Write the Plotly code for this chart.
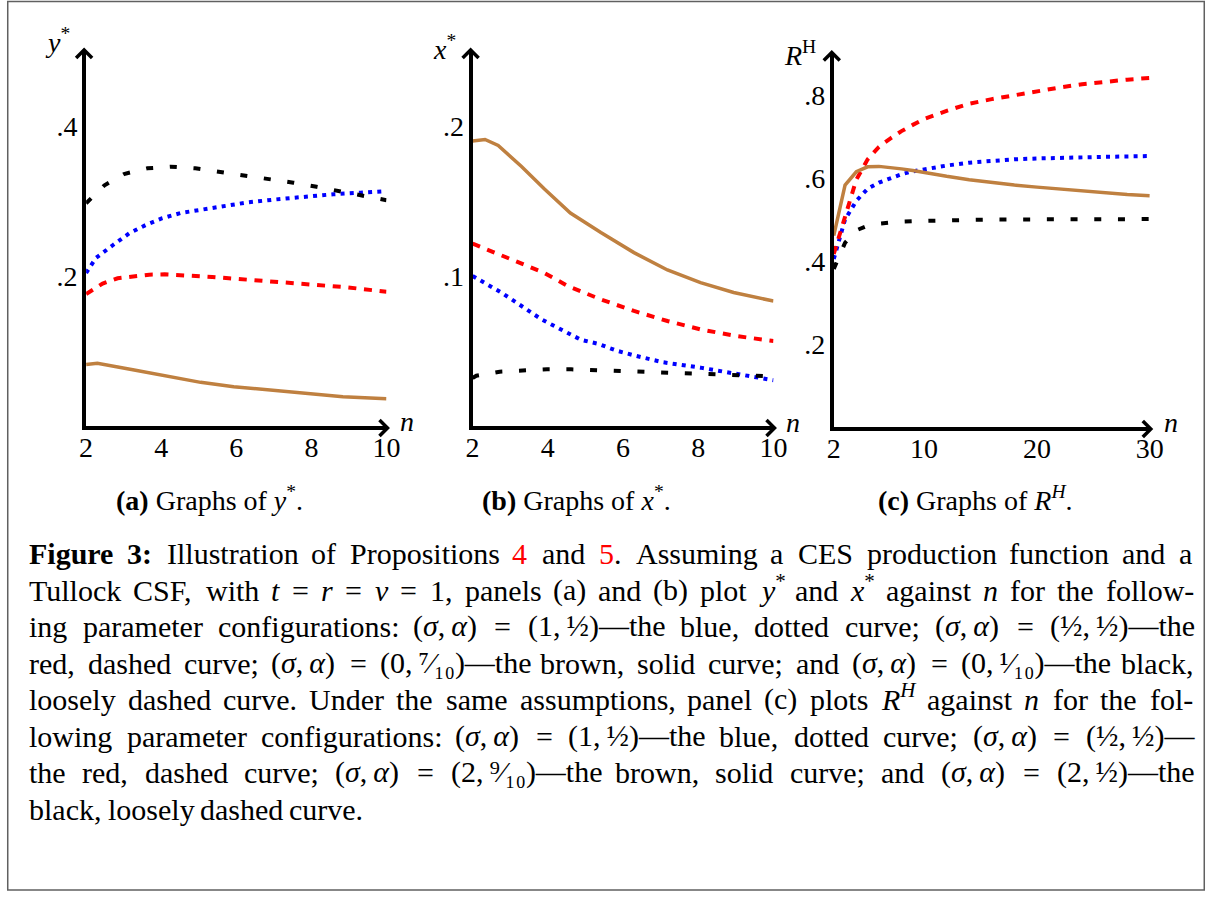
import re
import plotly.graph_objects as go

# full-page figure; the body margin is removed after plotting
PW, PH = 1219, 897
FW, FH = PW, PH
FONT = "Liberation Serif"
# the photographed page comes out slightly squeezed horizontally
# (shown x = SX0 + SX * page x); positions below are given in the
# reference picture's pixels and mapped back to page pixels.
SX0, SX = 8.0, 0.9815

# ---------------- data ----------------
# Panel (a): y* against n
n_a_blue = [2, 2.26, 2.71, 3.15, 3.59, 4.03, 4.52, 5.05, 5.58, 6.28, 7.03, 7.8, 8.58, 9.3, 10]
y_a_blue = [0.204, 0.224, 0.241, 0.257, 0.268, 0.277, 0.284, 0.288, 0.293, 0.298, 0.302, 0.306, 0.309, 0.311, 0.313]
n_a_red = [2, 2.44, 2.84, 3.26, 3.68, 4.09, 4.52, 4.91, 5.36, 5.80, 6.19, 7.03, 7.7, 8.93, 10]
y_a_red = [0.176, 0.190, 0.197, 0.200, 0.2018, 0.2022, 0.2013, 0.2004, 0.1987, 0.197, 0.1956, 0.192, 0.190, 0.185, 0.179]
n_a_brown = [2, 2.3, 3.28, 4.2, 5.05, 5.93, 6.81, 7.7, 8.84, 10]
y_a_brown = [0.082, 0.0836, 0.0747, 0.066, 0.0582, 0.0524, 0.048, 0.0436, 0.039, 0.0364]
n_a_black = [2, 2.49, 3.01, 3.63, 4.25, 4.91, 5.53, 6.17, 6.79, 7.52, 8.14, 8.67, 9.37, 10]
y_a_black = [0.297, 0.321, 0.336, 0.3436, 0.3458, 0.3436, 0.339, 0.3347, 0.330, 0.3244, 0.319, 0.314, 0.308, 0.301]

# Panel (b): x* against n
n_b_blue = [2, 2.77, 3.83, 4.88, 5.35, 5.83, 6.32, 6.81, 7.06, 8.06, 9.0, 10]
y_b_blue = [0.100, 0.0889, 0.0711, 0.0575, 0.0547, 0.0502, 0.0469, 0.0442, 0.0425, 0.0389, 0.035, 0.0305]
n_b_red = [2, 3.03, 3.91, 4.53, 5.41, 6.29, 7.18, 8.06, 9.0, 10]
y_b_red = [0.1216, 0.111, 0.102, 0.0933, 0.0844, 0.0767, 0.070, 0.0644, 0.060, 0.0567]
n_b_brown = [2, 2.33, 2.68, 3.30, 3.91, 4.6, 5.41, 6.29, 7.18, 8.06, 8.94, 10]
y_b_brown = [0.190, 0.191, 0.187, 0.173, 0.158, 0.142, 0.129, 0.1156, 0.104, 0.0956, 0.089, 0.0833]
n_b_black = [2, 2.1, 2.72, 3.34, 3.98, 4.62, 5.25, 5.88, 6.52, 7.13, 7.62, 8.5, 9.3, 10]
y_b_black = [0.032, 0.0335, 0.0362, 0.0373, 0.0378, 0.0378, 0.0373, 0.0369, 0.0364, 0.0358, 0.0356, 0.0345, 0.0337, 0.033]

# Panel (c): R^H against n
n_c = [2, 3, 4, 5, 6, 7, 8, 9, 10, 12, 14, 16, 18, 20, 22, 24, 26, 28, 30]
y_c_blue = [0.405, 0.50, 0.545, 0.574, 0.589, 0.600, 0.609, 0.616, 0.621, 0.630, 0.637, 0.642, 0.645, 0.647, 0.649, 0.650, 0.651, 0.652, 0.653]
y_c_red = [0.417, 0.51, 0.596, 0.645, 0.675, 0.695, 0.713, 0.728, 0.742, 0.762, 0.779, 0.790, 0.800, 0.810, 0.818, 0.826, 0.832, 0.837, 0.841]
y_c_brown = [0.461, 0.583, 0.615, 0.627, 0.628, 0.626, 0.622, 0.618, 0.613, 0.604, 0.596, 0.589, 0.583, 0.578, 0.573, 0.568, 0.563, 0.560, 0.557]
y_c_black = [0.381, 0.444, 0.474, 0.485, 0.490, 0.493, 0.495, 0.496, 0.497, 0.498, 0.499, 0.500, 0.500, 0.501, 0.501, 0.501, 0.501, 0.501, 0.501]

# tick labels
xt_ab = [2, 4, 6, 8, 10]
xt_c = [2, 10, 20, 30]
yt_a = [0.2, 0.4]
yt_b = [0.1, 0.2]
yt_c = [0.2, 0.4, 0.6, 0.8]
yt_a_text = [".2", ".4"]
yt_b_text = [".1", ".2"]
yt_c_text = [".2", ".4", ".6", ".8"]

subcaptions = ["<b>(a)</b> Graphs of <i>y</i><sup>*</sup>.",
               "<b>(b)</b> Graphs of <i>x</i><sup>*</sup>.",
               "<b>(c)</b> Graphs of <i>R</i><sup><i>H</i></sup>."]

RED = "<span style='color:#ff0000'>"
TS = "\u2009"
caption_lines = [
    "<b>Figure</b> <b>3:</b> Illustration of Propositions " + RED + "4</span> and " + RED + "5</span>. Assuming a CES production function and a",
    "Tullock CSF, with <i>t</i> = <i>r</i> = <i>v</i> = 1, panels (a) and (b) plot <i>y</i><sup>*</sup> and <i>x</i><sup>*</sup> against <i>n</i> for the follow-",
    "ing parameter configurations: (<i>σ</i>," + TS + "<i>α</i>) = (1," + TS + "½)—the blue, dotted curve; (<i>σ</i>," + TS + "<i>α</i>) = (½," + TS + "½)—the",
    "red, dashed curve; (<i>σ</i>," + TS + "<i>α</i>) = (0," + TS + "⁷⁄₁₀)—the brown, solid curve; and (<i>σ</i>," + TS + "<i>α</i>) = (0," + TS + "¹⁄₁₀)—the black,",
    "loosely dashed curve. Under the same assumptions, panel (c) plots <i>R</i><sup><i>H</i></sup> against <i>n</i> for the fol-",
    "lowing parameter configurations: (<i>σ</i>," + TS + "<i>α</i>) = (1," + TS + "½)—the blue, dotted curve; (<i>σ</i>," + TS + "<i>α</i>) = (½," + TS + "½)—",
    "the red, dashed curve; (<i>σ</i>," + TS + "<i>α</i>) = (2," + TS + "⁹⁄₁₀)—the brown, solid curve; and (<i>σ</i>," + TS + "<i>α</i>) = (2," + TS + "½)—the",
    "black, loosely dashed curve.",
]

# ---------------- geometry helpers (reference pixels -> paper) ----------------
def page_x(p):
    return (p - SX0) / SX

def fx(p, lo=None, hi=None):
    q = page_x(p)
    if lo is not None:
        q = max(lo, q)
    if hi is not None:
        q = min(hi, q)
    return q / FW

def fy(p):
    return 1 - p / FH

# panel pixel boxes in reference pixels: (left, right, top, bottom)
PANELS = {
    "a": (87, 387, 51, 426),
    "b": (473, 773.5, 51, 426),
    "c": (833.7, 1149.3, 53.5, 427),
}

STY = {
    "blue": dict(color="#0000FF", width=4, dash="4px,5.2px"),
    "red": dict(color="#FF0000", width=4, dash="8px,7.7px"),
    "brown": dict(color="#BF8040", width=3.5, dash="solid"),
    "black": dict(color="#000000", width=4, dash="7px,16.7px"),
}

fig = go.Figure()

def add(n, y, style, ax):
    fig.add_trace(go.Scatter(x=n, y=y, mode="lines", line=STY[style],
                             xaxis="x" + ax, yaxis="y" + ax, hoverinfo="skip",
                             showlegend=False))

add(n_a_blue, y_a_blue, "blue", "")
add(n_a_red, y_a_red, "red", "")
add(n_a_brown, y_a_brown, "brown", "")
add(n_a_black, y_a_black, "black", "")
add(n_b_blue, y_b_blue, "blue", "2")
add(n_b_red, y_b_red, "red", "2")
add(n_b_brown, y_b_brown, "brown", "2")
add(n_b_black, y_b_black, "black", "2")
add(n_c, y_c_blue, "blue", "3")
add(n_c, y_c_red, "red", "3")
add(n_c, y_c_brown, "brown", "3")
add(n_c, y_c_black, "black", "3")

tickfont = dict(family=FONT, size=28, color="black")

def xax(box, rng, tv, anchor):
    l, r, t, b = box
    return dict(domain=[fx(l), fx(r)], range=rng, anchor=anchor, showline=True,
                linewidth=4, linecolor="black", showgrid=False, zeroline=False,
                tickvals=tv, ticktext=[str(v) for v in tv], ticks="",
                tickfont=tickfont, ticklabelstandoff=-7, fixedrange=True)

def yax(box, rng, tv, tt, anchor):
    l, r, t, b = box
    return dict(domain=[fy(b), fy(t)], range=rng, anchor=anchor, showline=True,
                linewidth=4, linecolor="black", showgrid=False, zeroline=False,
                tickvals=tv, ticktext=tt, ticks="", tickfont=tickfont,
                ticklabelstandoff=-1, fixedrange=True)

fig.update_layout(
    xaxis=xax(PANELS["a"], [2, 10], xt_ab, "y"),
    yaxis=yax(PANELS["a"], [0, 0.5], yt_a, yt_a_text, "x"),
    xaxis2=xax(PANELS["b"], [2, 10], xt_ab, "y2"),
    yaxis2=yax(PANELS["b"], [0, 0.25], yt_b, yt_b_text, "x2"),
    xaxis3=xax(PANELS["c"], [2, 30], xt_c, "y3"),
    yaxis3=yax(PANELS["c"], [0, 0.9], yt_c, yt_c_text, "x3"),
)

# arrow heads at the ends of the axes
shapes = []
for key, box in PANELS.items():
    l, r, t, b = box
    ax_x = l - 2
    ax_y = b + 2
    tip_t = t - 1
    shapes.append(dict(type="path", xref="paper", yref="paper",
                       path="M %f,%f L %f,%f L %f,%f" % (fx(ax_x - 8), fy(tip_t + 8), fx(ax_x), fy(tip_t), fx(ax_x + 8), fy(tip_t + 8)),
                       line=dict(color="black", width=3.5)))
    tip_r = r + 1
    shapes.append(dict(type="path", xref="paper", yref="paper",
                       path="M %f,%f L %f,%f L %f,%f" % (fx(tip_r - 8), fy(ax_y - 8), fx(tip_r), fy(ax_y), fx(tip_r - 8), fy(ax_y + 8)),
                       line=dict(color="black", width=3.5)))
# outer frame
shapes.append(dict(type="rect", xref="paper", yref="paper",
                   x0=fx(5, lo=0.75), x1=fx(1214, hi=1218.25), y0=fy(890), y1=fy(1.5),
                   line=dict(color="#606060", width=1.5)))

annotations = []

def ann(text, x, y, size, xanchor="center", yanchor="bottom"):
    annotations.append(dict(text=text, x=fx(x), y=fy(y), xref="paper", yref="paper",
                            showarrow=False, xanchor=xanchor, yanchor=yanchor,
                            font=dict(family=FONT, size=size, color="black"), borderpad=0))

DESC = 0.216  # font descent (em); anchoring at the box bottom puts the baseline DESC em above it

def ann_base(text, x, baseline, size, xanchor="center"):
    ann(text, x, baseline + DESC * size, size, xanchor=xanchor, yanchor="bottom")

# axis titles (positioned by their baselines)
ann_base("<i>y</i><sup>*</sup>", 58.5, 53, 28)
ann_base("<i>x</i><sup>*</sup>", 444.5, 60, 28)
ann_base("<i>R</i><sup>H</sup>", 800, 66, 28)
ann_base("<i>n</i>", 407.5, 431.5, 28)
ann_base("<i>n</i>", 793, 433, 28)
ann_base("<i>n</i>", 1170, 433, 28)

# subcaptions
for txt, cx in zip(subcaptions, [210, 577, 975]):
    ann_base(txt, cx, 510.5, 28)

# ---------------- justified caption ----------------
ROMAN = {' ': 250, '(': 333, ')': 333, '*': 500, ',': 250, '-': 333, '.': 250, ':': 278, ';': 278,
         '=': 564, '—': 1000, '½': 750, '⁄': 167, 'σ': 540, 'α': 540, '\u2009': 200,
         'A': 722, 'B': 667, 'C': 667, 'D': 722, 'E': 611, 'F': 556, 'G': 722, 'H': 722, 'I': 333,
         'J': 389, 'K': 722, 'L': 611, 'M': 889, 'N': 722, 'O': 722, 'P': 556, 'Q': 722, 'R': 667,
         'S': 556, 'T': 611, 'U': 722, 'V': 722, 'W': 944, 'X': 722, 'Y': 722, 'Z': 611,
         'a': 444, 'b': 500, 'c': 444, 'd': 500, 'e': 444, 'f': 333, 'g': 500, 'h': 500, 'i': 278,
         'j': 278, 'k': 500, 'l': 278, 'm': 778, 'n': 500, 'o': 500, 'p': 500, 'q': 500, 'r': 333,
         's': 389, 't': 278, 'u': 500, 'v': 500, 'w': 722, 'x': 500, 'y': 500, 'z': 444}
for d in "0123456789":
    ROMAN[d] = 500
for d in "⁰¹²³⁴⁵⁶⁷⁸⁹₀₁₂₃₄₅₆₇₈₉":
    ROMAN[d] = 320
BOLD = {'F': 611, 'i': 278, 'g': 500, 'u': 556, 'r': 444, 'e': 444, '3': 500, ':': 333}
ITAL = {'t': 278, 'r': 389, 'v': 444, 'y': 444, 'x': 444, 'n': 500, 'R': 611, 'H': 722}


def text_width(html, fs):
    bold = italic = sup = False
    w = 0.0
    i = 0
    while i < len(html):
        c = html[i]
        if c == '<':
            j = html.index('>', i)
            tag = html[i + 1:j].split()[0].lower()
            if tag == 'b':
                bold = True
            elif tag == '/b':
                bold = False
            elif tag == 'i':
                italic = True
            elif tag == '/i':
                italic = False
            elif tag == 'sup':
                sup = True
            elif tag == '/sup':
                sup = False
            i = j + 1
            continue
        tbl = BOLD if bold else (ITAL if italic else ROMAN)
        cw = tbl.get(c, ROMAN.get(c, 500))
        w += cw * (0.7 if sup else 1.0)
        i += 1
    return w * fs / 1000.0


CAP_FS = 30
CAP_L, CAP_R = 29, 1191
CAP_B0, CAP_DY = 565, 36.5   # baseline of the first caption line, line pitch
for k, line in enumerate(caption_lines):
    words = re.split(r" (?![^<]*>)", line)
    widths = [text_width(wd, CAP_FS) * SX for wd in words]   # as they appear in the picture
    if k < len(caption_lines) - 1 and len(words) > 1:
        gap = (CAP_R - CAP_L - sum(widths)) / (len(words) - 1)
    else:
        gap = 0.25 * CAP_FS * SX
    x = CAP_L
    base = CAP_B0 + k * CAP_DY
    for wd, wdw in zip(words, widths):
        ann_base(wd, x, base, CAP_FS, xanchor="left")
        x += wdw + gap

fig.update_layout(
    width=FW, height=FH, autosize=False,
    margin=dict(l=0, r=0, t=0, b=0, pad=0),
    paper_bgcolor="white", plot_bgcolor="white",
    showlegend=False, shapes=shapes, annotations=annotations,
    font=dict(family=FONT, color="black"),
)

fig.write_html("out.html", config={"displayModeBar": False},
               post_script="document.body.style.margin='0';document.documentElement.style.overflow='hidden';")
